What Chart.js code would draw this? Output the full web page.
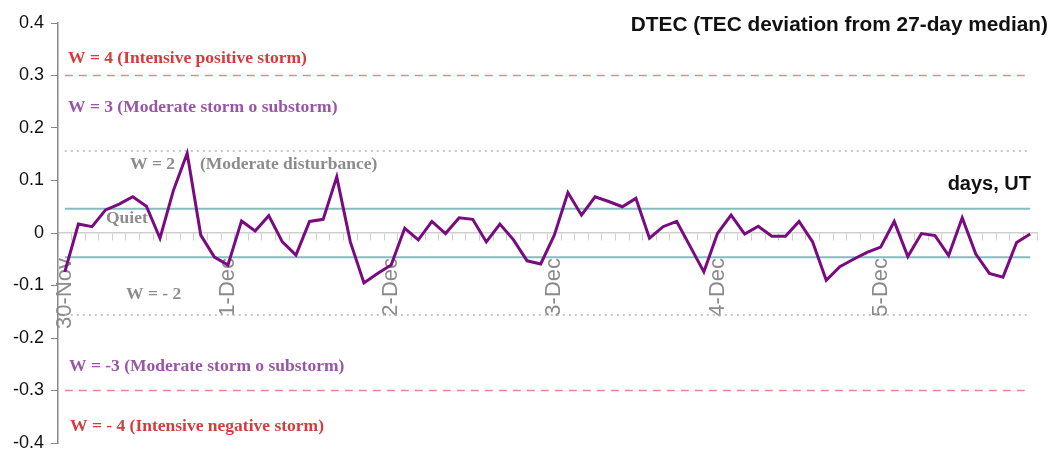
<!DOCTYPE html>
<html>
<head>
<meta charset="utf-8">
<script src="https://cdn.jsdelivr.net/npm/chart.js@4/dist/chart.umd.min.js"></script>
<style>
  html, body { margin: 0; padding: 0; background: #ffffff; }
  #wrap { width: 1050px; height: 470px; }
</style>
</head>
<body>
<div id="wrap"><canvas id="c" width="1050" height="470"></canvas></div>
<script>
// ---- data ----
const dayLabels = ['30-Nov', '1-Dec', '2-Dec', '3-Dec', '4-Dec', '5-Dec'];
const hourLabels = ['00:00','02:00','04:00','06:00','08:00','10:00','12:00','14:00','16:00','18:00','20:00','22:00'];
const categories = dayLabels.flatMap(d => hourLabels.map(h => d + ' ' + h));

const dtecValues = [
  -0.074, 0.017, 0.012, 0.044, 0.055, 0.069, 0.051, -0.010, 0.082, 0.152, -0.004, -0.046,
  -0.061, 0.023, 0.004, 0.033, -0.017, -0.042, 0.022, 0.026, 0.107, -0.017, -0.095, -0.077,
  -0.061, 0.009, -0.013, 0.022, -0.001, 0.029, 0.026, -0.017, 0.017, -0.013, -0.053, -0.059,
  -0.004, 0.077, 0.034, 0.069, 0.060, 0.050, 0.066, -0.010, 0.012, 0.022, -0.026, -0.074,
  -0.001, 0.034, -0.002, 0.013, -0.006, -0.006, 0.022, -0.017, -0.090, -0.064, -0.050, -0.037,
  -0.027, 0.022, -0.045, -0.001, -0.005, -0.043, 0.029, -0.040, -0.077, -0.084, -0.018, -0.002
];

const stormLevels = [0.30, -0.30];        // W = ±4 thresholds (dashed red)
const disturbanceLevels = [0.156, -0.156]; // W = ±2 thresholds (dotted grey)
const quietLevels = [0.046, -0.046];       // quiet band (teal)

const yTicks = [-0.4, -0.3, -0.2, -0.1, 0, 0.1, 0.2, 0.3, 0.4];

// ---- build datasets ----
const first = categories[0], last = categories[categories.length - 1];
function levelSet(v, color, width, dash, order) {
  return {
    data: [{x: first, y: v}, {x: last, y: v}],
    borderColor: color, borderWidth: width, borderDash: dash,
    pointRadius: 0, fill: false, order: order
  };
}
const datasets = [
  {
    label: 'DTEC',
    data: dtecValues,
    borderColor: '#7a0a80',
    borderWidth: 3,
    pointRadius: 0,
    tension: 0,
    fill: false,
    order: 0
  },
  ...stormLevels.map(v => levelSet(v, '#e58a8a', 1.5, [8, 6], 3)),
  ...disturbanceLevels.map(v => levelSet(v, '#b5b5b5', 1.5, [2, 4], 2)),
  ...quietLevels.map(v => levelSet(v, '#86bcbc', 2, [], 1))
];

// ---- annotation texts ----
const serif = '"Liberation Serif", "DejaVu Serif", serif';
const sans = '"Liberation Sans", Arial, sans-serif';
const notesPlugin = {
  id: 'notes',
  afterDatasetsDraw(chart) {
    const ctx = chart.ctx;
    const ys = chart.scales.y;
    const notes = [
      {t: 'W = 4 (Intensive positive storm)', c: '#d23c3c', x: 68, v: 0.333},
      {t: 'W = 3 (Moderate storm o substorm)', c: '#9a55a8', x: 68, v: 0.240},
      {t: 'W = 2', c: '#8c8c8c', x: 130, v: 0.131},
      {t: '(Moderate disturbance)', c: '#8c8c8c', x: 200, v: 0.131},
      {t: 'Quiet', c: '#8c8c8c', x: 106, v: 0.027},
      {t: 'W = - 2', c: '#8c8c8c', x: 126, v: -0.118},
      {t: 'W = -3 (Moderate storm o substorm)', c: '#9a55a8', x: 69, v: -0.255},
      {t: 'W = - 4 (Intensive negative storm)', c: '#d23c3c', x: 70, v: -0.368}
    ];
    ctx.save();
    ctx.textBaseline = 'middle';
    ctx.textAlign = 'left';
    ctx.font = 'bold 17.5px ' + serif;
    notes.forEach(n => {
      ctx.fillStyle = n.c;
      ctx.fillText(n.t, n.x, ys.getPixelForValue(n.v));
    });
    ctx.textAlign = 'right';
    ctx.fillStyle = '#111111';
    ctx.font = 'bold 20.8px ' + sans;
    ctx.fillText('DTEC (TEC deviation from 27-day median)', 1048, 25);
    ctx.font = 'bold 20px ' + sans;
    ctx.fillText('days, UT', 1031, ys.getPixelForValue(0.093));
    ctx.restore();
  }
};

new Chart(document.getElementById('c'), {
  type: 'line',
  data: { labels: categories, datasets: datasets },
  options: {
    responsive: false,
    animation: false,
    layout: { padding: { top: 23, bottom: 27, left: 0, right: 13 } },
    plugins: { legend: { display: false }, tooltip: { enabled: false } },
    scales: {
      x: {
        type: 'category',
        position: { y: 0 },
        offset: true,
        afterFit: function(s) { s.paddingLeft = 0; s.paddingRight = 0; s.paddingTop = 0; s.paddingBottom = 0; },
        grid: { offset: true, drawOnChartArea: false, drawTicks: true, tickLength: 7, color: '#cfcfcf', lineWidth: 1 },
        border: { color: '#cfcfcf', width: 1.5 },
        ticks: {
          autoSkip: false, maxRotation: 90, minRotation: 90, padding: 18,
          color: '#8a8a8a',
          font: { family: sans, size: 22 },
          callback: function(val, i) {
            const lab = categories[i];
            return lab.endsWith('00:00') ? lab.split(' ')[0] : '';
          }
        }
      },
      y: {
        min: -0.4, max: 0.4,
        afterFit: function(s) { s.width = 58; },
        afterBuildTicks: function(s) { s.ticks = yTicks.map(v => ({value: v})); },
        grid: { drawOnChartArea: false, drawTicks: true, tickLength: 7, color: '#888888' },
        border: { color: '#888888', width: 1.5 },
        ticks: {
          padding: 7,
          color: '#111111',
          font: { family: sans, size: 18 },
          callback: v => String(Math.round(v * 10) / 10)
        }
      }
    }
  },
  plugins: [notesPlugin]
});
</script>
</body>
</html>
